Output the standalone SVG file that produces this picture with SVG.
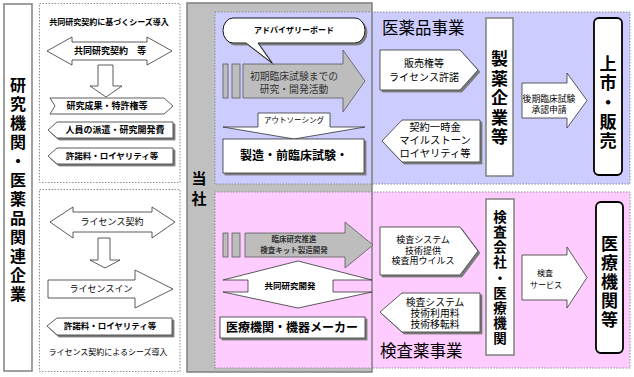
<svg xmlns="http://www.w3.org/2000/svg" width="634" height="377" viewBox="0 0 634 377">
<defs>
<filter id="sh" x="-10%" y="-10%" width="130%" height="150%">
<feDropShadow dx="2" dy="2" stdDeviation="0.3" flood-color="#7a7a7a" flood-opacity="1"/>
</filter>
</defs>
<style>
text{font-family:"Liberation Sans","Noto Sans CJK JP","Noto Sans CJK SC",sans-serif;fill:#000;text-anchor:middle;dominant-baseline:central}
.b{font-weight:bold}
.st{text-anchor:start}
.dot{fill:none;stroke:#8c8c8c;stroke-width:1;stroke-dasharray:1.5 1.5}
.wa{fill:#fff;stroke:#333;stroke-width:0.8}
.ga{fill:#bdbdbd;stroke:#595959;stroke-width:0.8}
.vb{fill:#fff;stroke:#808080;stroke-width:1.5}
.rb{fill:#fff;stroke:#000;stroke-width:1.8}
.shd{filter:url(#sh)}
.gt{fill:#333}
</style>

<!-- background regions -->
<rect x="187" y="3" width="185" height="369" fill="#c0c0c0"/>
<rect x="215" y="12" width="415" height="172" fill="#ccccff" stroke="#8c8c8c" stroke-width="1" stroke-dasharray="1.5 1.5"/>
<rect x="215" y="192" width="415" height="176" fill="#ffccff" stroke="#8c8c8c" stroke-width="1" stroke-dasharray="1.5 1.5"/>
<rect x="187" y="3" width="185" height="369" fill="none" stroke="#7f7f7f" stroke-width="1.5"/>
<rect class="dot" x="39.5" y="3.5" width="140.5" height="179"/>
<rect class="dot" x="39.5" y="189.5" width="140.5" height="182"/>

<g id="research-orgs">
<rect class="vb" x="4" y="4" width="28" height="367"/>
<text class="b" font-size="16"><tspan x="18" y="85">研</tspan><tspan x="18" y="104">究</tspan><tspan x="18" y="123">機</tspan><tspan x="18" y="142">関</tspan><tspan x="18" y="161">・</tspan><tspan x="18" y="180">医</tspan><tspan x="18" y="199">薬</tspan><tspan x="18" y="218">品</tspan><tspan x="18" y="237">関</tspan><tspan x="18" y="256">連</tspan><tspan x="18" y="275">企</tspan><tspan x="18" y="294">業</tspan></text>
</g>

<g id="company">
<text class="b" font-size="15"><tspan x="199" y="178">当</tspan><tspan x="199" y="198">社</tspan></text>
</g>

<g id="labels">
<text class="b" font-size="8" x="109" y="22">共同研究契約に基づくシーズ導入</text>
<text font-size="8" x="108" y="352">ライセンス契約によるシーズ導入</text>
<text class="st" font-size="16.5" x="382" y="28">医薬品事業</text>
<text class="st" font-size="16.5" x="380" y="351">検査薬事業</text>
</g>

<g id="connectors">
<!-- top-left -->
<path class="wa" d="M47,51 L72,37 L72,42 L147,42 L147,37 L172,51 L147,65 L147,60 L72,60 L72,65 Z"/>
<path class="wa" d="M98,65 L113,65 L113,86 L122,86 L106,97 L90,86 L98,86 Z"/>
<path class="wa" d="M50,98 L164,98 L173,106 L164,114 L50,114 L55,106 Z"/>
<path class="wa shd" d="M48,130 L57,122 L173,122 L173,138 L57,138 Z"/>
<path class="wa shd" d="M48,156 L57,148 L173,148 L173,164 L57,164 Z"/>
<!-- bottom-left -->
<path class="wa" d="M50,222 L73,207 L73,212 L152,212 L152,207 L175,222 L152,238 L152,232 L73,232 L73,238 Z"/>
<path class="wa" d="M98,238 L110,238 L110,260 L120,260 L105,268 L90,260 L98,260 Z"/>
<path class="wa" d="M48,280 L135,280 L135,270 L173,289 L135,308 L135,298 L48,298 Z"/>
<path class="wa shd" d="M47,326 L57,318 L172,318 L172,335 L57,335 Z"/>
<!-- purple -->
<rect class="ga" x="223" y="64" width="5" height="34"/>
<rect class="ga" x="232" y="64" width="8" height="34"/>
<path class="ga" d="M243,64 H343 V50 L365,81 L343,112 V98 H243 Z"/>
<path class="wa" d="M258,113 H330 V127 H365 L294,139 L223,127 H258 Z"/>
<path class="wa shd" d="M380,50 H460 L478,70 L460,90 H380 Z"/>
<path class="wa shd" d="M382,141 L402,120 H480 V162 H402 Z"/>
<path class="wa" d="M522,83 H567 V73 L587,100.5 L567,128 V118 H522 Z"/>
<!-- pink -->
<rect class="ga" x="223" y="233" width="5" height="24"/>
<rect class="ga" x="232" y="233" width="8" height="24"/>
<path class="ga" d="M245,233 H345 V222 L373,245 L345,268 V257 H245 Z"/>
<path class="wa" d="M298,261 L372,280 H333 V292 H372 L298,308 L223,292 H248 V280 H223 Z"/>
<path class="wa shd" d="M380,227 H460 L478,251 L460,275 H380 Z"/>
<path class="wa shd" d="M380,312 L402,293 H480 V332 H402 Z"/>
<path class="wa" d="M522,255 H567 V247 L587,277.5 L567,308 V300 H522 Z"/>
</g>

<g id="connector-labels">
<text class="b" font-size="9" x="110" y="51">共同研究契約　等</text>
<text class="b" font-size="9" x="107" y="106">研究成果・特許権等</text>
<text class="b" font-size="9" x="115" y="130">人員の派遣・研究開発費</text>
<text class="b" font-size="8.5" x="112" y="156">許諾料・ロイヤリティ等</text>
<text font-size="9" x="112" y="222">ライセンス契約</text>
<text font-size="9" x="101" y="289">ライセンスイン</text>
<text class="b" font-size="8.5" x="110" y="326">許諾料・ロイヤリティ等</text>
<text class="gt" font-size="9.8" x="294" y="76">初期臨床試験までの</text>
<text class="gt" font-size="9.8" x="294" y="89">研究・開発活動</text>
<text font-size="7.5" x="294" y="120">アウトソーシング</text>
<text class="gt b" font-size="7.5" x="294" y="239.5">臨床研究推進</text>
<text class="gt b" font-size="7.5" x="294" y="250.5">検査キット製造開発</text>
<text class="b" font-size="8.5" x="290" y="286">共同研究開発</text>
<text font-size="10" x="424" y="63">販売権等</text>
<text font-size="10" x="424" y="77">ライセンス許諾</text>
<text font-size="10.3" x="435" y="127">契約一時金</text>
<text font-size="10.3" x="435" y="140">マイルストーン</text>
<text font-size="10.3" x="435" y="153">ロイヤリティ等</text>
<text font-size="8.8" x="549" y="99">後期臨床試験</text>
<text font-size="8.8" x="549" y="110">承認申請</text>
<text font-size="9" x="423" y="240">検査システム</text>
<text font-size="9" x="423" y="250.5">技術提供</text>
<text font-size="9" x="423" y="261">検査用ウイルス</text>
<text font-size="9.8" x="435" y="302">検査システム</text>
<text font-size="9.8" x="435" y="313">技術利用料</text>
<text font-size="9.8" x="435" y="324">技術移転料</text>
<text font-size="8" x="545" y="273">検査</text>
<text font-size="8" x="546" y="285">サービス</text>
</g>

<g id="advisory-board">
<path class="shd" fill="#fff" stroke="#000" stroke-width="0.9" d="M233,18 H355 A10,12.5 0 0 1 355,43 H258 L272,63 L246,43 H233 A10,12.5 0 0 1 233,18 Z"/>
<text class="b" font-size="8" x="294" y="30">アドバイザリーボード</text>
</g>

<g id="manufacturing">
<rect class="shd" fill="#fff" stroke="#333" stroke-width="0.8" x="223" y="139" width="141" height="34"/>
<text class="b" font-size="12" x="294" y="156">製造・前臨床試験・</text>
</g>

<g id="medical-makers">
<rect class="shd" fill="#fff" stroke="#333" stroke-width="0.8" x="220" y="317" width="145" height="21"/>
<text class="b" font-size="12" x="292" y="328">医療機関・機器メーカー</text>
</g>

<g id="pharma-companies">
<rect class="vb" x="486" y="18" width="27" height="158"/>
<text class="b" font-size="17"><tspan x="499.5" y="59">製</tspan><tspan x="499.5" y="78.5">薬</tspan><tspan x="499.5" y="98">企</tspan><tspan x="499.5" y="117.5">業</tspan><tspan x="499.5" y="137">等</tspan></text>
</g>

<g id="market-sales">
<rect class="rb" x="594" y="18" width="28" height="157" rx="5"/>
<text class="b" font-size="17.2"><tspan x="608" y="64">上</tspan><tspan x="608" y="83.25">市</tspan><tspan x="608" y="102.5">・</tspan><tspan x="608" y="121.75">販</tspan><tspan x="608" y="141">売</tspan></text>
</g>

<g id="test-companies">
<rect class="vb" x="486" y="199" width="28" height="156"/>
<text class="b" font-size="13.5"><tspan x="500" y="217">検</tspan><tspan x="500" y="232.1">査</tspan><tspan x="500" y="247.2">会</tspan><tspan x="500" y="262.3">社</tspan><tspan x="500" y="277.5">・</tspan><tspan x="500" y="292.6">医</tspan><tspan x="500" y="307.7">療</tspan><tspan x="500" y="322.8">機</tspan><tspan x="500" y="338">関</tspan></text>
</g>

<g id="medical-institutions">
<rect class="rb" x="596" y="202" width="27" height="151" rx="5"/>
<text class="b" font-size="17"><tspan x="609.5" y="244">医</tspan><tspan x="609.5" y="263">療</tspan><tspan x="609.5" y="282">機</tspan><tspan x="609.5" y="301">関</tspan><tspan x="609.5" y="320">等</tspan></text>
</g>
</svg>
